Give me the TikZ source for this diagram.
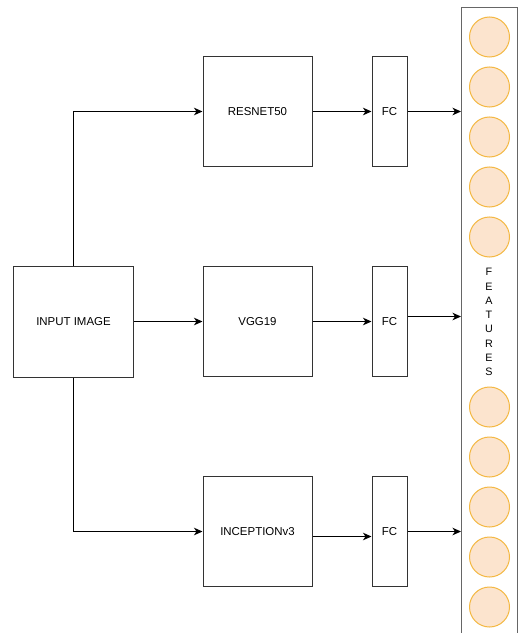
\documentclass[tikz,border=0pt]{standalone}
\usepackage{fontspec}
\setmainfont{Liberation Sans}
\usetikzlibrary{arrows.meta,positioning,calc}
\definecolor{boxline}{HTML}{333333}
\definecolor{featline}{HTML}{666666}
\definecolor{cellfill}{HTML}{FCE4CE}
\definecolor{cellline}{HTML}{F4B842}
\tikzset{
  block/.style={draw=boxline, line width=1bp, fill=white, minimum width=109bp, minimum height=110bp, inner sep=0pt, font=\fontsize{11.5}{13}\selectfont},
  fcbox/.style={draw=boxline, line width=1bp, fill=white, minimum width=35bp, minimum height=110bp, inner sep=0pt, font=\fontsize{11.5}{13}\selectfont},
  inbox/.style={draw=boxline, line width=1bp, fill=white, minimum width=120bp, minimum height=111bp, inner sep=0pt, font=\fontsize{11.5}{13}\selectfont},
  cell/.style={circle, draw=cellline, line width=1bp, fill=cellfill, minimum size=40bp, inner sep=0pt},
  link/.style={draw=black, line width=1bp, -{Stealth[length=8.5bp,width=7.5bp,inset=2.5bp]}},
}
\begin{document}
\begin{tikzpicture}[x=1bp,y=-1bp]
\useasboundingbox (0,0) rectangle (519,633);
\clip (0,0) rectangle (519,633);
% feature column
\node[draw=featline, line width=1bp, fill=white, minimum width=56bp, minimum height=660bp, inner sep=0pt, anchor=north west] (feat) at (461,7) {};
\foreach \i/\y in {1/37,2/87,3/137,4/187,5/237,6/407,7/457,8/507,9/557,10/607}
  \node[cell] (c\i) at (489.5,\y) {};
\node[font=\fontsize{10.8}{14.3}\selectfont, align=center, inner sep=0pt] (label) at (489,322) {F\\E\\A\\T\\U\\R\\E\\S};
% input and backbones
\node[inbox] (in) at (73.5,321.5) {INPUT IMAGE};
\node[block] (res) at (257.5,111.5) {RESNET50};
\node[block] (vgg) at (257.5,321.5) {VGG19};
\node[block] (inc) at (257.5,531.5) {INCEPTIONv3};
% fully connected layers
\node[fcbox] (fc1) at (389.5,111.5) {FC};
\node[fcbox] (fc2) at (389.5,321.5) {FC};
\node[fcbox] (fc3) at (389.5,531.5) {FC};
% connectors
\draw[link] (in.north) |- (res.west);
\draw[link] (in.east) -- (vgg.west);
\draw[link] (in.south) |- (inc.west);
\draw[link] (res.east) -- (fc1.west);
\draw[link] (vgg.east) -- (fc2.west);
\draw[link] ($(inc.east)+(0,5)$) -- ($(fc3.west)+(0,5)$);
\draw[link] (fc1.east) -- (fc1.east -| feat.west);
\draw[link] ($(fc2.east)+(0,-5)$) -- ($(fc2.east -| feat.west)+(0,-5)$);
\draw[link] (fc3.east) -- (fc3.east -| feat.west);
\end{tikzpicture}
\end{document}
